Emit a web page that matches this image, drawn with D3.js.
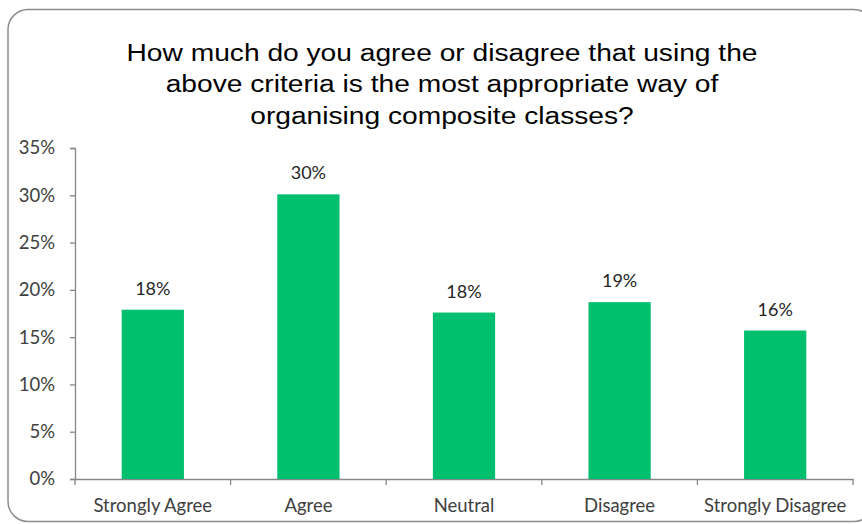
<!DOCTYPE html>
<html>
<head>
<meta charset="utf-8">
<script src="https://cdn.jsdelivr.net/npm/d3@7"></script>
<style>
  body { margin: 0; background: #fff; }
  .axis text { font-family: Lato, "Open Sans", sans-serif; font-size: 18.5px; fill: #404040; }
  .axis path, .axis line { stroke: #868686; stroke-width: 1.3; }
</style>
</head>
<body>
<div id="chart"></div>
<script>
const categories = ["Strongly Agree", "Agree", "Neutral", "Disagree", "Strongly Disagree"];
const values = [17.9, 30.1, 17.6, 18.7, 15.7];
const value_labels = ["18%", "30%", "18%", "19%", "16%"];
const y_ticks = [0, 5, 10, 15, 20, 25, 30, 35];
const title_lines = [
  "How much do you agree or disagree that using the",
  "above criteria is the most appropriate way of",
  "organising composite classes?"
];

function PlotBarChart(parent_element) {
  const W = 862, H = 524;
  const margin = {top: 148, right: 9, bottom: 45, left: 75};
  const width = W - margin.left - margin.right;
  const height = H - margin.top - margin.bottom;

  const root = d3.select("#" + parent_element)
    .append("svg")
      .attr("width", W)
      .attr("height", H);

  // rounded frame, right side runs off the picture
  root.append("rect")
      .attr("x", 8)
      .attr("y", 9.5)
      .attr("width", 866)
      .attr("height", 512)
      .attr("rx", 20)
      .attr("fill", "none")
      .attr("stroke", "#8c8c8c")
      .attr("stroke-width", 1.5);

  // title text in the reference is a bit stretched horizontally
  const cx = 442;
  root.append("g")
      .attr("transform", `translate(${cx},0) scale(1.15,1)`)
    .append("text")
      .attr("y", 61)
      .attr("text-anchor", "middle")
      .style("font-family", "'Liberation Sans', Arial, sans-serif")
      .style("font-size", "24.5px")
      .style("fill", "#000")
    .selectAll("tspan")
    .data(title_lines)
    .enter()
    .append("tspan")
      .attr("x", 0)
      .attr("dy", (d, i) => i === 0 ? 0 : 31.5)
      .text(d => d);

  const svg = root.append("g")
      .attr("transform", `translate(${margin.left},${margin.top})`);

  const x = d3.scaleBand().domain(categories).range([0, width]).padding(0);
  const y = d3.scaleLinear().domain([0, 35]).range([height, 0]);

  svg.append("g")
      .attr("class", "y axis")
      .call(d3.axisLeft(y).tickValues(y_ticks).tickSize(5).tickPadding(15).tickFormat(d => d + "%"));

  const xAxis = svg.append("g")
      .attr("class", "x axis")
      .attr("transform", `translate(0,${height})`)
      .call(d3.axisBottom(x).tickSize(0).tickPadding(20).tickSizeOuter(0));

  // tick marks sit between the categories
  xAxis.selectAll(".sep")
    .data(d3.range(categories.length + 1))
    .enter()
    .append("line")
      .attr("class", "sep")
      .attr("x1", i => i * x.step())
      .attr("x2", i => i * x.step())
      .attr("y1", 0)
      .attr("y2", 6);

  const barW = x.bandwidth() * 0.4;

  svg.selectAll(".bar")
    .data(categories)
    .enter()
    .append("rect")
      .attr("class", "bar")
      .attr("x", (d) => x(d) + (x.bandwidth() - barW) / 2)
      .attr("y", (d, i) => y(values[i]))
      .attr("width", barW)
      .attr("height", (d, i) => height - y(values[i]))
      .style("fill", "#00BF6F");

  svg.selectAll(".lbl")
    .data(categories)
    .enter()
    .append("text")
      .attr("class", "lbl")
      .attr("x", d => x(d) + x.bandwidth() / 2)
      .attr("y", (d, i) => y(values[i]) - 15)
      .attr("text-anchor", "middle")
      .style("font-family", "Lato, 'Open Sans', sans-serif")
      .style("font-size", "18px")
      .style("fill", "#262626")
      .text((d, i) => value_labels[i]);
}

document.addEventListener('DOMContentLoaded', () => {
  PlotBarChart("chart");
});
</script>
</body>
</html>
